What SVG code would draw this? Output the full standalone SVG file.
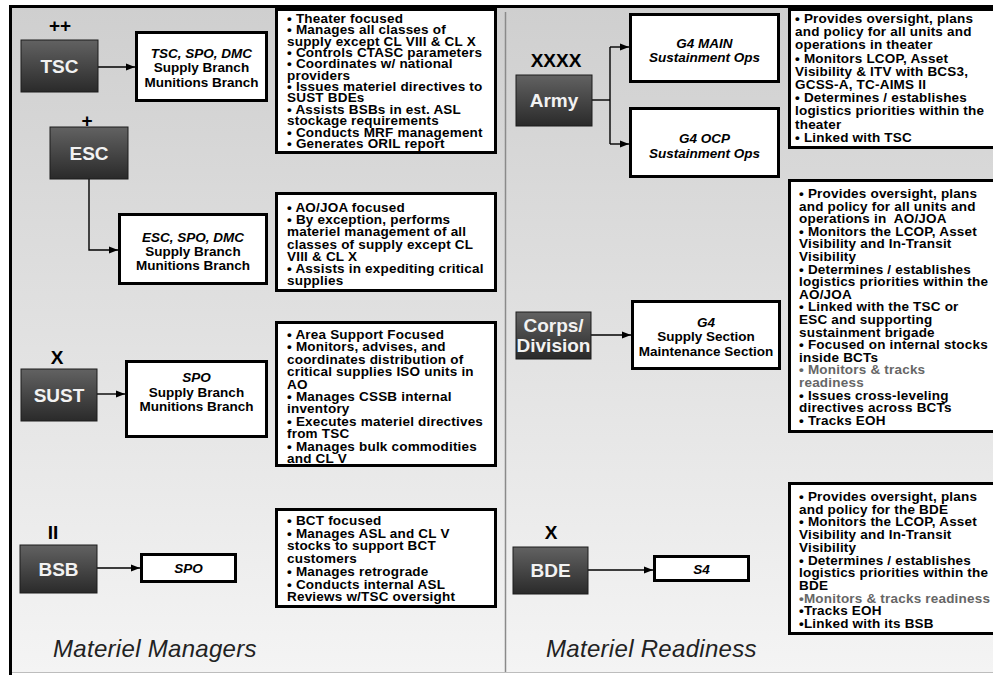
<svg xmlns="http://www.w3.org/2000/svg" width="993" height="675" viewBox="0 0 993 675">
<defs>
<linearGradient id="bg" x1="0" y1="0" x2="0" y2="1">
<stop offset="0" stop-color="#cfcfcf"/>
<stop offset="1" stop-color="#f4f4f4"/>
</linearGradient>
<linearGradient id="ng" x1="0" y1="0" x2="0" y2="1">
<stop offset="0" stop-color="#626262"/>
<stop offset="1" stop-color="#2a2a2a"/>
</linearGradient>
<marker id="ah" markerUnits="userSpaceOnUse" markerWidth="9" markerHeight="8" refX="9" refY="4" orient="auto">
<path d="M0,0.5 L9,4 L0,7.5 z" fill="#000"/>
</marker>
<style>
text{font-family:"Liberation Sans",Arial,sans-serif;font-weight:bold}
.nr{fill:url(#ng);stroke:#1c1c1c;stroke-width:1}
.nl{font-size:19px;fill:#f2f2f2;text-anchor:middle}
.mk{font-size:19px;fill:#000;text-anchor:middle}
.box{fill:#fff;stroke:#000;stroke-width:3}
.tt{font-size:13.5px;fill:#000;text-anchor:middle}
.it{font-style:italic}
.bt{font-size:13.5px;fill:#000;letter-spacing:0.2px}
.gr{fill:#666}
.cap{font-weight:normal;font-style:italic;font-size:24px;fill:#222;letter-spacing:0.3px}
.cn{fill:none;stroke:#000;stroke-width:1.4}
</style>
</defs>

<rect x="11" y="8" width="990" height="664" fill="url(#bg)"/>
<line x1="11" y1="672.5" x2="993" y2="672.5" stroke="#bdbdbd" stroke-width="1"/>
<path d="M10.5,675 V6.5 H1000" fill="none" stroke="#000" stroke-width="3"/>
<line x1="505.5" y1="12" x2="505.5" y2="672" stroke="#8a8a8a" stroke-width="1.5"/>

<g id="connectors">
<path class="cn" d="M98,67 H135" marker-end="url(#ah)"/>
<path class="cn" d="M89,179 V250 H118" marker-end="url(#ah)"/>
<path class="cn" d="M97,394 H125" marker-end="url(#ah)"/>
<path class="cn" d="M97,568 H140" marker-end="url(#ah)"/>
<path class="cn" d="M592,100 H610"/>
<path class="cn" d="M610,47 V144"/>
<path class="cn" d="M610,47 H629" marker-end="url(#ah)"/>
<path class="cn" d="M610,144 H629" marker-end="url(#ah)"/>
<path class="cn" d="M591,335 H631" marker-end="url(#ah)"/>
<path class="cn" d="M588,570 H653" marker-end="url(#ah)"/>
</g>

<g id="tsc">
<text class="mk" x="60" y="32">++</text>
<rect class="nr" x="21" y="40" width="77" height="52"/>
<text class="nl" x="59.5" y="73">TSC</text>
</g>
<g id="esc">
<text class="mk" x="87" y="127">+</text>
<rect class="nr" x="50" y="127" width="78" height="52"/>
<text class="nl" x="89" y="160">ESC</text>
</g>
<g id="sust">
<text class="mk" x="57" y="364">X</text>
<rect class="nr" x="21" y="369" width="76" height="52"/>
<text class="nl" x="59" y="402">SUST</text>
</g>
<g id="bsb">
<text class="mk" x="53" y="539">II</text>
<rect class="nr" x="20" y="545" width="77" height="48"/>
<text class="nl" x="58.5" y="576">BSB</text>
</g>
<g id="army">
<text class="mk" x="556" y="67">XXXX</text>
<rect class="nr" x="516" y="75" width="76" height="51"/>
<text class="nl" x="554" y="107">Army</text>
</g>
<g id="corps">
<rect class="nr" x="516" y="312" width="75" height="47"/>
<text class="nl" x="553.5" y="332">Corps/</text>
<text class="nl" x="553.5" y="352">Division</text>
</g>
<g id="bde">
<text class="mk" x="551" y="539">X</text>
<rect class="nr" x="513" y="547" width="75" height="47"/>
<text class="nl" x="550.5" y="577">BDE</text>
</g>

<g id="tsc-staff">
<rect class="box" x="136.5" y="32.5" width="130" height="68"/>
<text class="tt" x="201.5"><tspan class="it" x="201.5" y="58">TSC, SPO, DMC</tspan><tspan x="201.5" y="72">Supply Branch</tspan><tspan x="201.5" y="86.5">Munitions Branch</tspan></text>
</g>
<g id="esc-staff">
<rect class="box" x="119.5" y="214.5" width="147" height="69"/>
<text class="tt" x="193"><tspan class="it" x="193" y="242">ESC, SPO, DMC</tspan><tspan x="193" y="256">Supply Branch</tspan><tspan x="193" y="270">Munitions Branch</tspan></text>
</g>
<g id="sust-staff">
<rect class="box" x="126.5" y="361.5" width="140" height="75"/>
<text class="tt" x="196.5"><tspan class="it" x="196.5" y="382">SPO</tspan><tspan x="196.5" y="397">Supply Branch</tspan><tspan x="196.5" y="411">Munitions Branch</tspan></text>
</g>
<g id="bsb-staff">
<rect class="box" x="141.5" y="554.5" width="94" height="27"/>
<text class="tt it" x="188.5" y="573">SPO</text>
</g>
<g id="g4-main">
<rect class="box" x="630.5" y="14.5" width="148" height="67"/>
<text class="tt it"><tspan x="704.5" y="48">G4 MAIN</tspan><tspan x="704.5" y="62">Sustainment Ops</tspan></text>
</g>
<g id="g4-ocp">
<rect class="box" x="630.5" y="108.5" width="148" height="68"/>
<text class="tt it"><tspan x="704.5" y="143">G4 OCP</tspan><tspan x="704.5" y="158">Sustainment Ops</tspan></text>
</g>
<g id="g4-supply">
<rect class="box" x="632.5" y="301.5" width="147" height="67"/>
<text class="tt"><tspan class="it" x="706" y="327">G4</tspan><tspan x="706" y="341">Supply Section</tspan><tspan x="706" y="356">Maintenance Section</tspan></text>
</g>
<g id="s4">
<rect class="box" x="654.5" y="556.5" width="94" height="24"/>
<text class="tt it" x="701.5" y="574">S4</text>
</g>

<g id="tsc-notes">
<rect class="box" x="276.5" y="9.5" width="219" height="143"/>
<text class="bt"><tspan x="287" y="23">• Theater focused</tspan><tspan x="287" dy="11.35">• Manages all classes of</tspan><tspan x="287" dy="11.35">supply except CL VIII &amp; CL X</tspan><tspan x="287" dy="11.35">• Controls CTASC parameters</tspan><tspan x="287" dy="11.35">• Coordinates w/ national</tspan><tspan x="287" dy="11.35">providers</tspan><tspan x="287" dy="11.35">• Issues materiel directives to</tspan><tspan x="287" dy="11.35">SUST BDEs</tspan><tspan x="287" dy="11.35">• Assists BSBs in est. ASL</tspan><tspan x="287" dy="11.35">stockage requirements</tspan><tspan x="287" dy="11.35">• Conducts MRF management</tspan><tspan x="287" dy="11.35">• Generates ORIL report</tspan></text>
</g>
<g id="esc-notes">
<rect class="box" x="276.5" y="193.5" width="219" height="97"/>
<text class="bt"><tspan x="287" y="212">• AO/JOA focused</tspan><tspan x="287" dy="12.2">• By exception, performs</tspan><tspan x="287" dy="12.2">materiel management of all</tspan><tspan x="287" dy="12.2">classes of supply except CL</tspan><tspan x="287" dy="12.2">VIII &amp; CL X</tspan><tspan x="287" dy="12.2">• Assists in expediting critical</tspan><tspan x="287" dy="12.2">supplies</tspan></text>
</g>
<g id="sust-notes">
<rect class="box" x="276.5" y="322.5" width="219" height="143"/>
<text class="bt"><tspan x="287" y="339">• Area Support Focused</tspan><tspan x="287" dy="12.4">• Monitors, advises, and</tspan><tspan x="287" dy="12.4">coordinates distribution of</tspan><tspan x="287" dy="12.4">critical supplies ISO units in</tspan><tspan x="287" dy="12.4">AO</tspan><tspan x="287" dy="12.4">• Manages CSSB internal</tspan><tspan x="287" dy="12.4">inventory</tspan><tspan x="287" dy="12.4">• Executes materiel directives</tspan><tspan x="287" dy="12.4">from TSC</tspan><tspan x="287" dy="12.4">• Manages bulk commodities</tspan><tspan x="287" dy="12.4">and CL V</tspan></text>
</g>
<g id="bsb-notes">
<rect class="box" x="276.5" y="509.5" width="219" height="97"/>
<text class="bt"><tspan x="287" y="525">• BCT focused</tspan><tspan x="287" dy="12.7">• Manages ASL and CL V</tspan><tspan x="287" dy="12.7">stocks to support BCT</tspan><tspan x="287" dy="12.7">customers</tspan><tspan x="287" dy="12.7">• Manages retrograde</tspan><tspan x="287" dy="12.7">• Conducts internal ASL</tspan><tspan x="287" dy="12.7">Reviews w/TSC oversight</tspan></text>
</g>
<g id="army-notes">
<rect class="box" x="789.5" y="9.5" width="210" height="138"/>
<text class="bt"><tspan x="795" y="23">• Provides oversight, plans</tspan><tspan x="795" dy="13.2">and policy for all units and</tspan><tspan x="795" dy="13.2">operations in theater</tspan><tspan x="795" dy="13.2">• Monitors LCOP, Asset</tspan><tspan x="795" dy="13.2">Visibility &amp; ITV with BCS3,</tspan><tspan x="795" dy="13.2">GCSS-A, TC-AIMS II</tspan><tspan x="795" dy="13.2">• Determines / establishes</tspan><tspan x="795" dy="13.2">logistics priorities within the</tspan><tspan x="795" dy="13.2">theater</tspan><tspan x="795" dy="13.2">• Linked with TSC</tspan></text>
</g>
<g id="corps-notes">
<rect class="box" x="789.5" y="180.5" width="210" height="251"/>
<text class="bt"><tspan x="799" y="198">• Provides oversight, plans</tspan><tspan x="799" dy="12.6">and policy for all units and</tspan><tspan x="799" dy="12.6">operations in&#160; AO/JOA</tspan><tspan x="799" dy="12.6">• Monitors the LCOP, Asset</tspan><tspan x="799" dy="12.6">Visibility and In-Transit</tspan><tspan x="799" dy="12.6">Visibility</tspan><tspan x="799" dy="12.6">• Determines / establishes</tspan><tspan x="799" dy="12.6">logistics priorities within the</tspan><tspan x="799" dy="12.6">AO/JOA</tspan><tspan x="799" dy="12.6">• Linked with the TSC or</tspan><tspan x="799" dy="12.6">ESC and supporting</tspan><tspan x="799" dy="12.6">sustainment brigade</tspan><tspan x="799" dy="12.6">• Focused on internal stocks</tspan><tspan x="799" dy="12.6">inside BCTs</tspan><tspan class="gr" x="799" dy="12.6">• Monitors &amp; tracks</tspan><tspan class="gr" x="799" dy="12.6">readiness</tspan><tspan x="799" dy="12.6">• Issues cross-leveling</tspan><tspan x="799" dy="12.6">directives across BCTs</tspan><tspan x="799" dy="12.6">• Tracks EOH</tspan></text>
</g>
<g id="bde-notes">
<rect class="box" x="789.5" y="483.5" width="210" height="150"/>
<text class="bt"><tspan x="799" y="501">• Provides oversight, plans</tspan><tspan x="799" dy="12.7">and policy for the BDE</tspan><tspan x="799" dy="12.7">• Monitors the LCOP, Asset</tspan><tspan x="799" dy="12.7">Visibility and In-Transit</tspan><tspan x="799" dy="12.7">Visibility</tspan><tspan x="799" dy="12.7">• Determines / establishes</tspan><tspan x="799" dy="12.7">logistics priorities within the</tspan><tspan x="799" dy="12.7">BDE</tspan><tspan class="gr" x="799" dy="12.7">•Monitors &amp; tracks readiness</tspan><tspan x="799" dy="12.7">•Tracks EOH</tspan><tspan x="799" dy="12.7">•Linked with its BSB</tspan></text>
</g>

<text class="cap" x="53" y="656.5">Materiel Managers</text>
<text class="cap" x="546" y="656.5">Materiel Readiness</text>
</svg>
